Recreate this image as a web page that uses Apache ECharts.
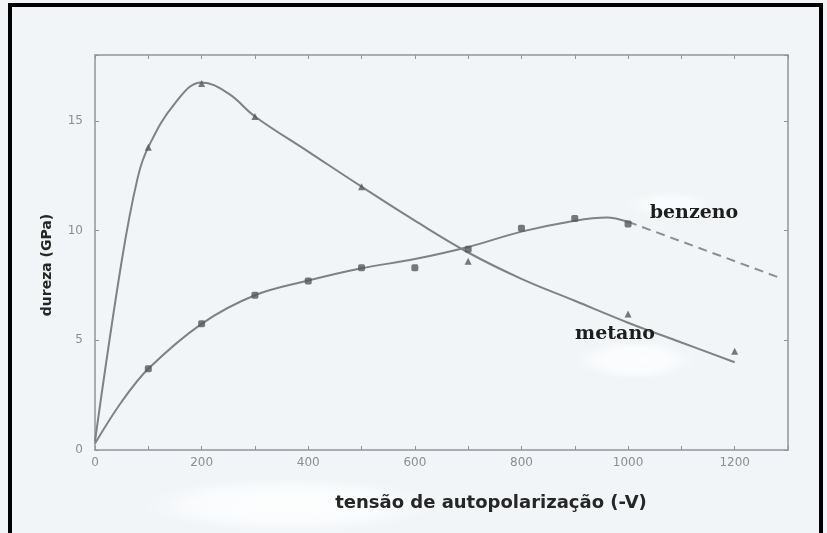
<!DOCTYPE html>
<html>
<head>
<meta charset="utf-8">
<script src="https://cdn.jsdelivr.net/npm/echarts@6/dist/echarts.min.js"></script>
<style>
  html, body { margin: 0; padding: 0; background: #f1f5f8; }
  #chart { width: 827px; height: 533px; }
</style>
</head>
<body>
<div id="chart"></div>
<script>
// Measured hardness points (GPa) against self-bias voltage (-V)
const metanoX = [100, 200, 300, 500, 700, 1000, 1200];
const metanoY = [13.8, 16.7, 15.2, 12.0, 8.6, 6.2, 4.5];

const benzenoX = [100, 200, 300, 400, 500, 600, 700, 800, 900, 1000];
const benzenoY = [3.7, 5.75, 7.05, 7.7, 8.3, 8.3, 9.15, 10.1, 10.55, 10.3];

// Hand-drawn trend curves through the measurements
const metanoCurveX = [0, 50, 80, 100, 150, 200, 250, 300, 400, 500, 600, 700, 800, 900, 1000, 1100, 1200];
const metanoCurveY = [0.4, 8.6, 12.4, 13.8, 15.8, 16.75, 16.25, 15.2, 13.6, 12.0, 10.45, 9.0, 7.8, 6.8, 5.8, 4.9, 4.0];

const benzenoCurveX = [0, 50, 100, 200, 300, 400, 500, 600, 700, 800, 900, 960, 1000];
const benzenoCurveY = [0.3, 2.2, 3.7, 5.75, 7.05, 7.72, 8.28, 8.7, 9.25, 9.95, 10.45, 10.6, 10.4];

// Extrapolated (dashed) continuation of the benzene curve
const benzenoDashX = [1000, 1290];
const benzenoDashY = [10.4, 7.8];

const xTickLabels = [0, 200, 400, 600, 800, 1000, 1200];
const yTickLabels = [0, 5, 10, 15];

const pairs = (xs, ys) => xs.map((x, i) => [x, ys[i]]);

const axisGray = '#8f959a';
const lineGray = '#7d8286';
const markGray = '#55595d';

const chart = echarts.init(document.getElementById('chart'));

const frameAxisLine = { show: true, onZero: false, lineStyle: { color: axisGray, width: 1.5 } };
const innerTicks = { inside: true, length: 4, lineStyle: { color: axisGray } };

// soft light patch on the paper: a radial-gradient disc stretched sideways
const glow = (cx, cy, rx, ry, a) => ({
  type: 'circle', z: -1, silent: true,
  x: cx, y: cy, scaleX: rx / ry,
  shape: { cx: 0, cy: 0, r: ry },
  style: {
    fill: {
      type: 'radial', x: 0.5, y: 0.5, r: 0.5,
      colorStops: [
        { offset: 0, color: `rgba(255,255,255,${a})` },
        { offset: 0.55, color: `rgba(255,255,255,${a * 0.8})` },
        { offset: 1, color: 'rgba(255,255,255,0)' }
      ]
    }
  }
});

chart.setOption({
  backgroundColor: '#f1f5f8',
  animation: false,
  grid: { left: 95, right: 39, top: 55, bottom: 83 },
  xAxis: [
    {
      type: 'value', min: 0, max: 1300, interval: 100, position: 'bottom',
      axisLine: frameAxisLine, axisTick: innerTicks,
      splitLine: { show: false },
      axisLabel: {
        color: '#8a8f94', fontSize: 12, fontFamily: 'DejaVu Sans', margin: 7,
        formatter: v => xTickLabels.includes(v) ? String(v) : ''
      }
    },
    {
      type: 'value', min: 0, max: 1300, interval: 100, position: 'top',
      axisLine: frameAxisLine, axisTick: innerTicks,
      axisLabel: { show: false },
      splitLine: { show: false }
    }
  ],
  yAxis: [
    {
      type: 'value', min: 0, max: 18, interval: 5, position: 'left',
      axisLine: frameAxisLine, axisTick: innerTicks,
      splitLine: { show: false },
      axisLabel: {
        color: '#8a8f94', fontSize: 12, fontFamily: 'DejaVu Sans', margin: 12,
        formatter: v => yTickLabels.includes(v) ? String(v) : ''
      }
    },
    {
      type: 'value', min: 0, max: 18, interval: 5, position: 'right',
      axisLine: frameAxisLine, axisTick: innerTicks,
      axisLabel: { show: false },
      splitLine: { show: false }
    }
  ],
  series: [
    {
      name: 'metano-curva', type: 'line', data: pairs(metanoCurveX, metanoCurveY),
      smooth: 0.4, showSymbol: false, lineStyle: { color: lineGray, width: 2 }, z: 2
    },
    {
      name: 'benzeno-curva', type: 'line', data: pairs(benzenoCurveX, benzenoCurveY),
      smooth: 0.35, showSymbol: false, lineStyle: { color: lineGray, width: 2 }, z: 2
    },
    {
      name: 'benzeno-extrapolada', type: 'line', data: pairs(benzenoDashX, benzenoDashY),
      showSymbol: false, lineStyle: { color: '#8a8f93', width: 2, type: [9, 6] }, z: 2
    },
    {
      name: 'metano', type: 'scatter', data: pairs(metanoX, metanoY),
      symbol: 'triangle', symbolSize: 7, itemStyle: { color: markGray }, z: 3
    },
    {
      name: 'benzeno', type: 'scatter', data: pairs(benzenoX, benzenoY),
      symbol: 'roundRect', symbolSize: 7, itemStyle: { color: markGray }, z: 3
    }
  ],
  graphic: [
    glow(290, 505, 150, 28, 0.9),
    glow(635, 360, 60, 20, 0.85),
    glow(670, 205, 45, 14, 0.6),
    // page frame
    { type: 'rect', shape: { x: 8, y: 3, width: 4, height: 530 }, style: { fill: '#000' } },
    { type: 'rect', shape: { x: 8, y: 3, width: 815, height: 4 }, style: { fill: '#000' } },
    { type: 'rect', shape: { x: 819, y: 3, width: 4, height: 530 }, style: { fill: '#000' } },
    // axis titles
    {
      type: 'text', x: 491, y: 503, z: 10,
      style: {
        text: 'tensão de autopolarização (-V)', fill: '#262626',
        font: 'bold 18px "DejaVu Sans", sans-serif', align: 'center', verticalAlign: 'middle'
      }
    },
    {
      type: 'text', x: 47, y: 265, rotation: Math.PI / 2, z: 10,
      style: {
        text: 'dureza (GPa)', fill: '#262626',
        font: 'bold 14px "DejaVu Sans", sans-serif', align: 'center', verticalAlign: 'middle'
      }
    },
    // curve names
    {
      type: 'text', x: 694, y: 213, z: 10,
      style: {
        text: 'benzeno', fill: '#1e1e1e', align: 'center', verticalAlign: 'middle',
        font: 'bold 19px "DejaVu Serif", serif'
      }
    },
    {
      type: 'text', x: 615, y: 334, z: 10,
      style: {
        text: 'metano', fill: '#1e1e1e', align: 'center', verticalAlign: 'middle',
        font: 'bold 19px "DejaVu Serif", serif'
      }
    }
  ]
});
</script>
</body>
</html>
